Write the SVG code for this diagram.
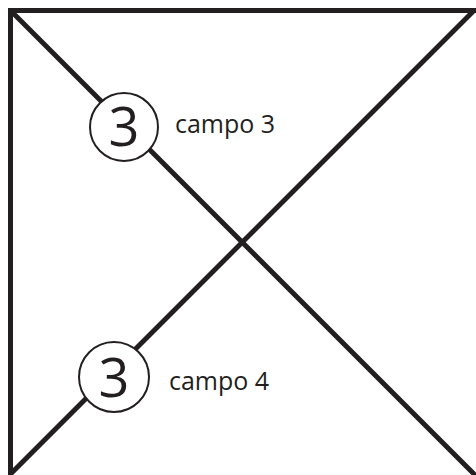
<svg xmlns="http://www.w3.org/2000/svg" width="476" height="475" viewBox="0 0 476 475">
<style>
.ln{stroke:#231f20;stroke-width:5;fill:none}
.cir{fill:#fff;stroke:#231f20;stroke-width:2}
.num{font-family:"Open Sans","Noto Sans",sans-serif;font-size:54px;fill:#231f20;text-anchor:middle}
.lbl{font-family:"Open Sans","Noto Sans",sans-serif;font-size:25px;fill:#231f20}
</style>
<rect width="476" height="475" fill="#fff"/>
<g id="connectors">
<path class="ln" d="M10.5 480 V10.5 H480"/>
<line class="ln" x1="10.5" y1="10.5" x2="478" y2="478"/>
<line class="ln" x1="474" y1="10.5" x2="10.5" y2="474"/>
</g>
<g id="node-top">
<circle class="cir" cx="124" cy="127" r="34"/>
<text class="num" x="124" y="145.5">3</text>
<text class="lbl" x="175" y="133">campo 3</text>
</g>
<g id="node-bottom">
<circle class="cir" cx="114" cy="377" r="35"/>
<text class="num" x="114" y="397">3</text>
<text class="lbl" x="169" y="390">campo 4</text>
</g>
</svg>
